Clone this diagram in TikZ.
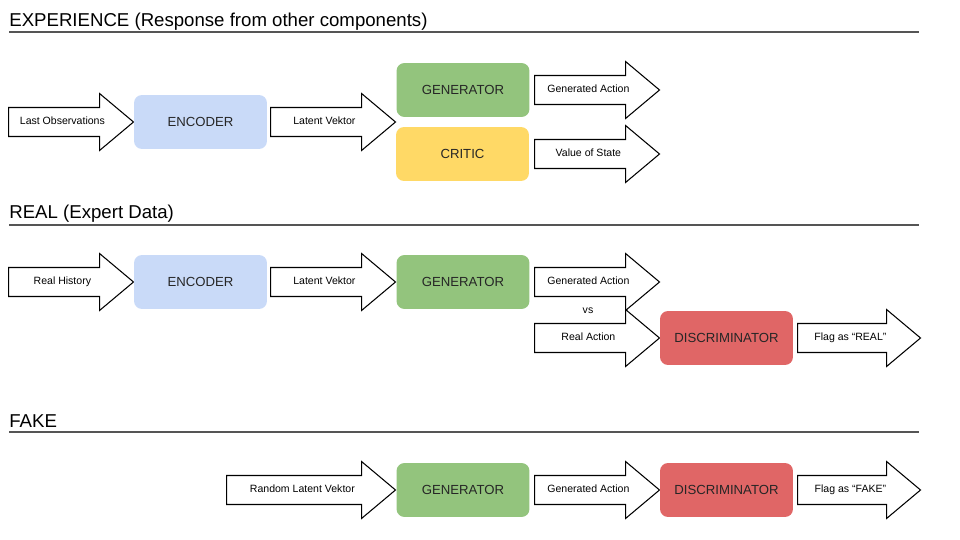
\documentclass[tikz,border=0pt]{standalone}
\usepackage{fontspec}
\setmainfont{Liberation Sans}
\usetikzlibrary{positioning,shapes.arrows}
\definecolor{encblue}{HTML}{C9DAF8}
\definecolor{gengreen}{HTML}{93C47D}
\definecolor{crityellow}{HTML}{FFD966}
\definecolor{discred}{HTML}{E06666}
\definecolor{rulegray}{HTML}{555555}
\tikzset{
  block/.style={rounded corners=0.16cm, minimum width=2.66cm, minimum height=1.08cm,
    inner sep=0pt, text=black!85, font=\fontsize{7.5}{9}\selectfont},
  flow/.style={single arrow, draw, fill=white, line width=0.6pt, anchor=tail,
    single arrow head extend=0.28cm, single arrow tip angle=80,
    minimum width=1.12cm, inner xsep=2pt, inner ysep=4.95pt,
    text height=4.6pt, text depth=1.4pt, font=\fontsize{6}{7}\selectfont},
  heading/.style={anchor=base west, inner sep=0pt, font=\fontsize{10.6}{12}\selectfont},
  rule/.style={rulegray, line width=0.6pt}
}
\begin{document}
\begin{tikzpicture}[x=0.02cm, y=-0.02cm]
	\useasboundingbox (0,0) rectangle (960,540);
	\def\xl{9}
	\def\xr{919}
	% experience
	\node[heading] (hexp) at (\xl,27) {EXPERIENCE (Response from other components)};
	\draw[rule] (\xl,32) -- (\xr,32);
	\node[flow, minimum height=2.5cm] (lastobs) at (8,122) {Last Observations};
	\node[block, fill=encblue] (enc1) at (200.5,122) {ENCODER};
	\node[flow, minimum height=2.5cm] (latent1) at (270,122) {Latent Vektor};
	\node[block, fill=gengreen] (gen1) at (463,90) {GENERATOR};
	\node[block, fill=crityellow] (critic) at (462.5,154) {CRITIC};
	\node[flow, minimum height=2.5cm] (genact1) at (534,90) {Generated Action};
	\node[flow, minimum height=2.5cm] (value) at (534,154) {Value of State};
	% real
	\node[heading] (hreal) at (\xl,219) {REAL (Expert Data)};
	\draw[rule] (\xl,225) -- (\xr,225);
	\node[flow, minimum height=2.5cm] (realhist) at (8,282) {Real History};
	\node[block, fill=encblue] (enc2) at (200.5,282) {ENCODER};
	\node[flow, minimum height=2.5cm] (latent2) at (270,282) {Latent Vektor};
	\node[block, fill=gengreen] (gen2) at (463,282) {GENERATOR};
	\node[flow, minimum height=2.5cm] (genact2) at (534,282) {Generated Action};
	\node[font=\fontsize{6}{7}\selectfont] (vs) at (588,311) {vs};
	\node[flow, minimum height=2.5cm] (realact) at (534,338) {Real Action};
	\node[block, fill=discred] (disc1) at (726.5,338) {DISCRIMINATOR};
	\node[flow, minimum height=2.46cm] (flagreal) at (797,338) {Flag as “REAL”};
	% fake
	\node[heading] (hfake) at (\xl,427) {FAKE};
	\draw[rule] (\xl,432) -- (\xr,432);
	\node[flow, minimum height=3.38cm] (randlat) at (226,490) {Random Latent Vektor};
	\node[block, fill=gengreen] (gen3) at (463,490) {GENERATOR};
	\node[flow, minimum height=2.5cm] (genact3) at (534,490) {Generated Action};
	\node[block, fill=discred] (disc2) at (726.5,490) {DISCRIMINATOR};
	\node[flow, minimum height=2.46cm] (flagfake) at (797,490) {Flag as “FAKE”};
\end{tikzpicture}
\end{document}
